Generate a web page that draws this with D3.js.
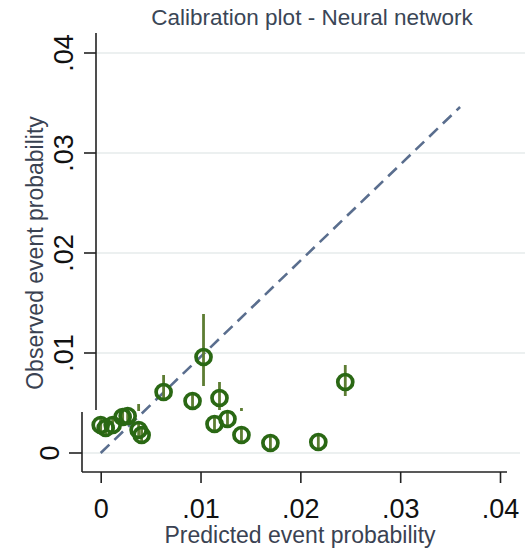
<!DOCTYPE html>
<html><head><meta charset="utf-8">
<script src="https://cdn.jsdelivr.net/npm/d3@7"></script>
<style>body{margin:0;background:#fff}svg{display:block}text{font-family:"Liberation Sans",Arial,sans-serif}</style>
</head><body>
<svg id="c" width="525" height="555"></svg>
<script>
const title = "Calibration plot - Neural network";
const xLabel = "Predicted event probability";
const yLabel = "Observed event probability";
const tickValues = [0, 0.01, 0.02, 0.03, 0.04];
const tickLabels = ["0", ".01", ".02", ".03", ".04"];
const predicted = [0.0000,0.0005,0.0012,0.0022,0.0027,0.0038,0.0041,0.0063,0.0092,0.0103,0.0119,0.0114,0.0127,0.0141,0.0170,0.0218,0.0245];
const observed  = [0.0028,0.0025,0.0028,0.0036,0.0037,0.0023,0.0018,0.0061,0.0052,0.0096,0.0055,0.0029,0.0034,0.0018,0.0010,0.0011,0.0071];
const ciLow     = [0.0022,0.0019,0.0021,0.0029,0.0030,0.0012,0.0011,0.0053,0.0043,0.0067,0.0043,0.0021,0.0026,0.0011,0.0004,0.0005,0.0057];
const ciHigh    = [0.0034,0.0031,0.0035,0.0043,0.0044,0.0049,0.0025,0.0078,0.0061,0.0139,0.0071,0.0037,0.0042,0.0045,0.0016,0.0017,0.0088];
const diagX = [0, 0.0360];
const diagY = [0, 0.0346];

const svg = d3.select("#c");
const x = d3.scaleLinear().domain([0,0.04]).range([100.7,500]);
const y = d3.scaleLinear().domain([0,0.04]).range([453,53]);
const pts = predicted.map((p,i)=>({p, o:observed[i], lo:ciLow[i], hi:ciHigh[i]}));

const green = "#2a6814", barCol = "#5d7d33", gridCol = "#e6ebeb", diagCol = "#5a6e8e";
const patchTop = 411;

svg.append("defs").append("clipPath").attr("id","lowclip")
  .append("rect").attr("x",82).attr("y",patchTop).attr("width",443).attr("height",555-patchTop);

// ----- upper layer -----
const up = svg.append("g");
up.selectAll("line.grid").data(tickValues.slice(1)).join("line")
  .attr("x1",96).attr("x2",525).attr("y1",d=>y(d)).attr("y2",d=>y(d))
  .attr("stroke",gridCol).attr("stroke-width",1.5);
function drawContent(g, shortBars){
  g.append("line").attr("x1",x(diagX[0])).attr("y1",y(diagY[0])).attr("x2",x(diagX[1])).attr("y2",y(diagY[1]))
    .attr("stroke",diagCol).attr("stroke-width",2.6).attr("stroke-dasharray","12,7");
  g.selectAll("line.eb").data(pts).join("line")
    .attr("x1",d=>x(d.p)).attr("x2",d=>x(d.p))
    .attr("y1",d=>shortBars? Math.min(y(d.lo), y(d.o)+7): y(d.lo))
    .attr("y2",d=>shortBars? Math.max(y(d.hi), y(d.o)-7): y(d.hi))
    .attr("stroke",barCol).attr("stroke-width",2.8);
  g.selectAll("circle").data(pts).join("circle")
    .attr("cx",d=>x(d.p)).attr("cy",d=>y(d.o)).attr("r",7.5)
    .attr("fill","none").attr("stroke",green).attr("stroke-width",3.7);
}
drawContent(up,false);
// upper y axis
up.append("line").attr("x1",96).attr("x2",96).attr("y1",33).attr("y2",patchTop-1).attr("stroke","#222").attr("stroke-width",1.6);
up.selectAll("line.yt").data(tickValues.slice(1)).join("line")
  .attr("x1",84).attr("x2",96).attr("y1",d=>y(d)).attr("y2",d=>y(d)).attr("stroke","#222").attr("stroke-width",1.6);
up.selectAll("text.yl").data(tickValues.slice(1)).join("text")
  .attr("transform",d=>`translate(73,${y(d)}) rotate(-90)`).attr("text-anchor","middle")
  .attr("font-size",27).attr("fill","#111").text((d,i)=>tickLabels[i+1]);

// ----- lower patch -----
svg.append("rect").attr("x",82).attr("y",patchTop).attr("width",443).attr("height",555-patchTop).attr("fill","#fff");
const low = svg.append("g");
const lowIn = low.append("g").attr("clip-path","url(#lowclip)");
lowIn.append("line").attr("x1",82).attr("x2",520).attr("y1",y(0)).attr("y2",y(0)).attr("stroke",gridCol).attr("stroke-width",1.5);
drawContent(lowIn,true);
low.append("line").attr("x1",82).attr("x2",82).attr("y1",patchTop+1).attr("y2",472).attr("stroke","#222").attr("stroke-width",1.6);
low.append("line").attr("x1",69).attr("x2",82).attr("y1",y(0)).attr("y2",y(0)).attr("stroke","#222").attr("stroke-width",1.6);
low.append("text").attr("transform",`translate(59,${y(0)}) rotate(-90)`).attr("text-anchor","middle")
  .attr("font-size",27).attr("fill","#111").text(tickLabels[0]);

// x axis
const xa = svg.append("g").attr("transform","translate(0,472)")
  .call(d3.axisBottom(x).tickValues(tickValues).tickFormat((d,i)=>tickLabels[i]).tickSize(11).tickSizeOuter(0));
xa.select(".domain").remove();
xa.append("line").attr("x1",82).attr("x2",507).attr("y1",0).attr("y2",0).attr("stroke","#222").attr("stroke-width",1.6);
xa.selectAll(".tick line").attr("stroke","#222").attr("stroke-width",1.6);
xa.selectAll(".tick text").attr("font-size",27).attr("fill","#111").attr("dy",0).attr("y",46)
  .style("font-family",'"Liberation Sans",Arial,sans-serif');

// titles
svg.append("text").attr("x",312).attr("y",25).attr("text-anchor","middle").attr("font-size",22.5).attr("fill","#3a4656").text(title);
svg.append("text").attr("x",300).attr("y",543).attr("text-anchor","middle").attr("font-size",23).attr("fill","#3a4252").text(xLabel);
svg.append("text").attr("transform","translate(43,253) rotate(-90)").attr("text-anchor","middle").attr("font-size",23).attr("fill","#3a4252").text(yLabel);
</script>
</body></html>
